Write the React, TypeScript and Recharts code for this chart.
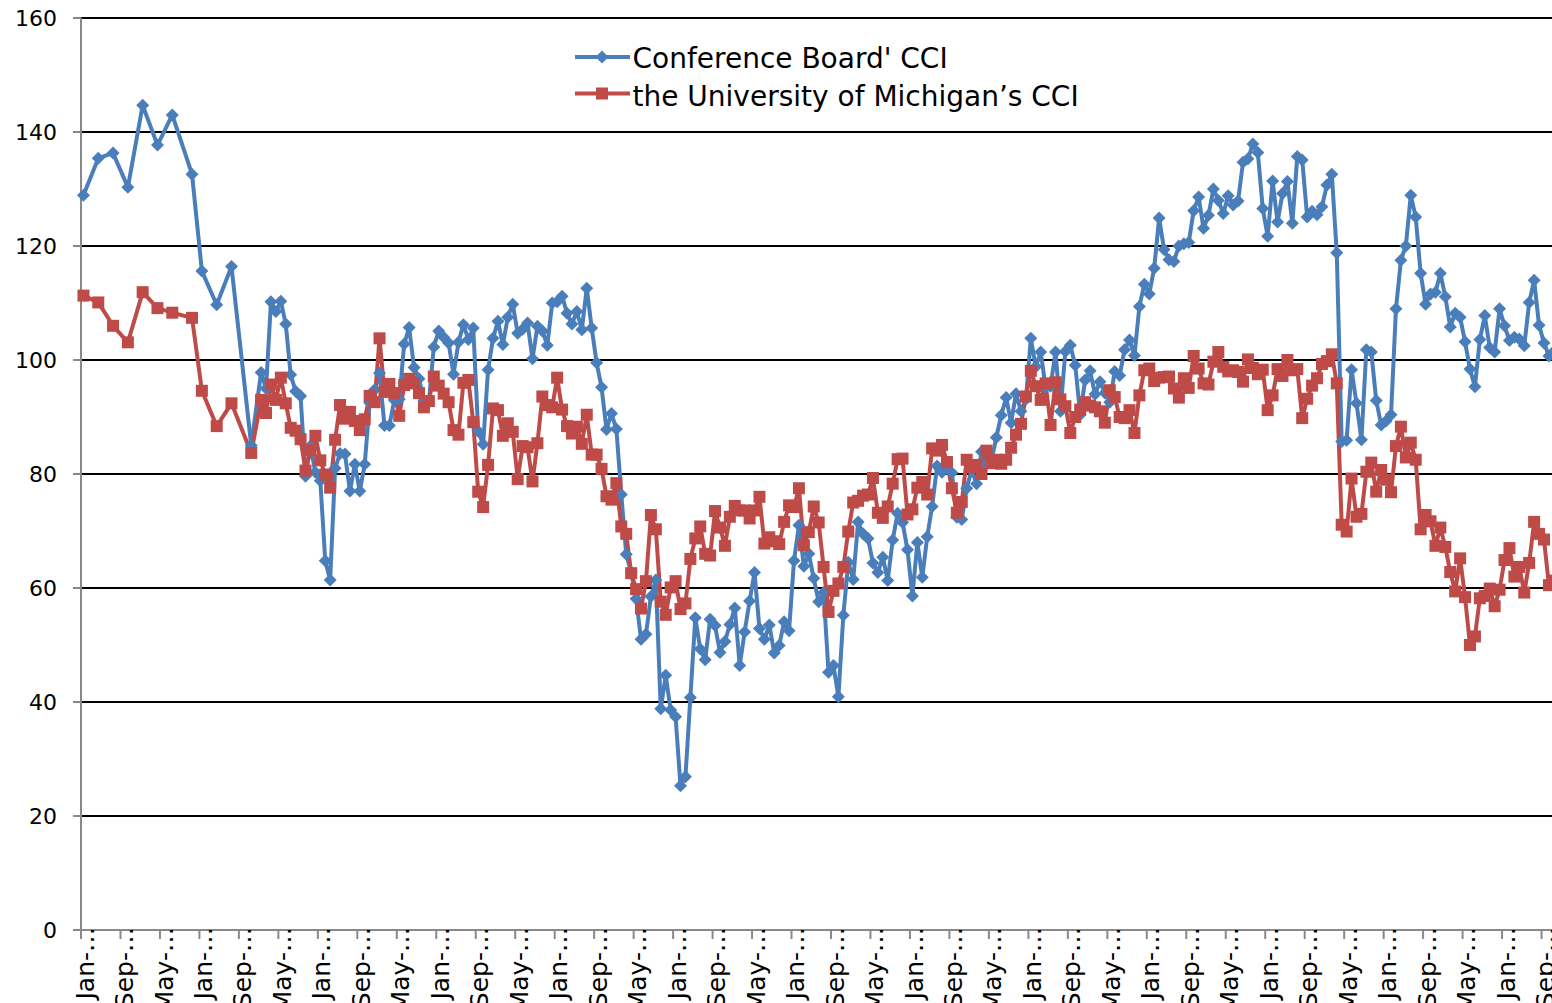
import React from "react";
import { LineChart, Line, XAxis, YAxis, CartesianGrid, Legend } from "recharts";

const monthNames = ["Jan", "Feb", "Mar", "Apr", "May", "Jun", "Jul", "Aug", "Sep", "Oct", "Nov", "Dec"];

// Sparse early observations (1999-2001)
const earlyDates = ["1999-01", "1999-04", "1999-07", "1999-10", "2000-01", "2000-04", "2000-07", "2000-11", "2001-01", "2001-04", "2001-07", "2001-11"];
const cbEarly = [128.9, 135.4, 136.3, 130.3, 144.7, 137.7, 143.0, 132.6, 115.6, 109.7, 116.4, 85.0];
const umEarly = [111.3, 110.1, 106.0, 103.1, 111.9, 109.1, 108.3, 107.4, 94.6, 88.4, 92.4, 83.7];

// Monthly observations from 2002-01
const monthlyStart = "2002-01";
const cbMonthly = [
  97.8, 95.0, 110.2, 108.5, 110.3, 106.3, 97.4, 94.5, 93.7, 79.6, 84.9, 80.3, // 2002
  78.8, 64.8, 61.4, 81.0, 83.6, 83.5, 77.0, 81.7, 77.0, 81.7, 92.5, 94.8, // 2003
  97.7, 88.5, 88.5, 93.0, 93.1, 102.8, 105.7, 98.7, 96.7, 92.9, 92.6, 102.3, // 2004
  105.1, 104.0, 103.0, 97.5, 103.1, 106.2, 103.6, 105.6, 87.5, 85.2, 98.3, 103.8, // 2005
  106.8, 102.7, 107.5, 109.8, 104.7, 105.4, 106.5, 100.2, 105.9, 105.1, 102.6, 110.0, // 2006
  110.2, 111.2, 108.2, 106.3, 108.5, 105.3, 112.6, 105.6, 99.5, 95.2, 87.8, 90.6, // 2007
  87.9, 76.4, 65.9, 62.8, 58.1, 51.0, 51.9, 58.5, 61.4, 38.8, 44.7, 38.6, // 2008
  37.4, 25.3, 26.9, 40.8, 54.8, 49.3, 47.4, 54.5, 53.4, 48.7, 50.6, 53.6, // 2009
  56.5, 46.4, 52.3, 57.7, 62.7, 52.9, 51.0, 53.5, 48.6, 49.9, 54.1, 52.5, // 2010
  64.8, 71.0, 63.8, 66.0, 61.7, 57.6, 59.2, 45.2, 46.4, 40.9, 55.2, 64.5, // 2011
  61.5, 71.6, 69.5, 68.7, 64.4, 62.7, 65.4, 61.3, 68.4, 73.1, 71.5, 66.7, // 2012
  58.6, 68.0, 61.9, 69.0, 74.3, 81.4, 80.3, 81.8, 80.2, 72.4, 72.0, 77.5, // 2013
  80.7, 78.3, 83.9, 81.7, 82.2, 86.4, 90.3, 93.4, 89.0, 94.1, 91.0, 93.1, // 2014
  103.8, 98.8, 101.4, 95.2, 95.4, 101.4, 91.0, 101.5, 102.6, 99.1, 90.4, 96.5, // 2015
  98.1, 94.0, 96.2, 94.2, 92.6, 98.0, 97.3, 101.8, 103.5, 100.8, 109.4, 113.3, // 2016
  111.6, 116.1, 124.9, 119.4, 117.6, 117.3, 120.0, 120.4, 120.6, 126.2, 128.6, 123.1, // 2017
  125.4, 130.0, 128.0, 125.7, 128.8, 127.2, 127.9, 134.7, 135.3, 137.9, 136.4, 126.6, // 2018
  121.7, 131.4, 124.2, 129.2, 131.3, 124.0, 135.7, 135.1, 125.1, 126.1, 125.5, 126.9, // 2019
  130.7, 132.6, 118.8, 85.7, 85.9, 98.3, 92.4, 86.0, 101.8, 101.4, 92.9, 88.6, // 2020
  89.3, 90.4, 109.0, 117.5, 120.0, 128.9, 125.1, 115.2, 109.8, 111.6, 111.9, 115.2, // 2021
  111.1, 105.8, 108.2, 107.5, 103.2, 98.4, 95.3, 103.6, 107.8, 102.2, 101.4, 109.0, // 2022
  106.0, 103.4, 104.0, 103.7, 102.5, 110.1, 114.0, 106.1, 103.0, 100.7, 101.5, 111.0, // 2023
];
const umMonthly = [
  93.0, 90.7, 95.7, 93.0, 96.9, 92.4, 88.1, 87.6, 86.1, 80.6, 84.2, 86.7, // 2002
  82.4, 79.9, 77.6, 86.0, 92.1, 89.7, 90.9, 89.3, 87.7, 89.6, 93.7, 92.6, // 2003
  103.8, 94.4, 95.8, 94.2, 90.2, 95.6, 96.7, 95.9, 94.2, 91.7, 92.8, 97.1, // 2004
  95.5, 94.1, 92.6, 87.7, 86.9, 96.0, 96.5, 89.1, 76.9, 74.2, 81.6, 91.5, // 2005
  91.2, 86.7, 88.9, 87.4, 79.1, 84.9, 84.7, 78.7, 85.4, 93.6, 92.1, 91.7, // 2006
  96.9, 91.3, 88.4, 87.1, 88.3, 85.3, 90.4, 83.4, 83.4, 80.9, 76.1, 75.5, // 2007
  78.4, 70.8, 69.5, 62.6, 59.8, 56.4, 61.2, 72.8, 70.3, 57.6, 55.3, 60.1, // 2008
  61.2, 56.3, 57.3, 65.1, 68.7, 70.8, 66.0, 65.7, 73.5, 70.6, 67.4, 72.5, // 2009
  74.4, 73.6, 73.6, 72.2, 73.6, 76.0, 67.8, 68.9, 68.2, 67.7, 71.6, 74.5, // 2010
  74.2, 77.5, 67.5, 69.8, 74.3, 71.5, 63.7, 55.8, 59.5, 60.8, 63.7, 69.9, // 2011
  75.0, 75.3, 76.2, 76.4, 79.3, 73.2, 72.3, 74.3, 78.3, 82.6, 82.7, 72.9, // 2012
  73.8, 77.6, 78.6, 76.4, 84.5, 84.1, 85.1, 82.1, 77.5, 73.2, 75.1, 82.5, // 2013
  81.2, 81.6, 80.0, 84.1, 81.9, 82.5, 81.8, 82.5, 84.6, 86.9, 88.8, 93.6, // 2014
  98.1, 95.4, 93.0, 95.9, 88.6, 96.1, 93.1, 91.9, 87.2, 90.0, 91.3, 92.6, // 2015
  92.0, 91.7, 91.0, 89.0, 94.7, 93.5, 90.0, 89.8, 91.2, 87.2, 93.8, 98.2, // 2016
  98.5, 96.3, 96.9, 97.0, 97.1, 95.0, 93.4, 96.8, 95.1, 100.7, 98.5, 95.9, // 2017
  95.7, 99.7, 101.4, 98.8, 98.0, 98.2, 97.9, 96.2, 100.1, 98.6, 97.5, 98.3, // 2018
  91.2, 93.8, 98.4, 97.2, 100.0, 98.2, 98.4, 89.8, 93.2, 95.5, 96.8, 99.3, // 2019
  99.8, 101.0, 95.9, 71.1, 69.9, 79.2, 72.5, 73.0, 80.4, 82.0, 76.9, 80.7, // 2020
  79.0, 76.8, 84.9, 88.3, 82.9, 85.5, 82.5, 70.3, 72.8, 71.7, 67.4, 70.6, // 2021
  67.2, 62.8, 59.4, 65.2, 58.4, 50.0, 51.5, 58.2, 58.6, 59.9, 56.8, 59.7, // 2022
  64.9, 67.0, 62.0, 63.7, 59.2, 64.4, 71.6, 69.5, 68.5, 60.5, 61.3, 69.7, // 2023
];

const yTicks = [0, 20, 40, 60, 80, 100, 120, 140, 160];
const xTicks = [0, 8, 16, 24, 32, 40, 48, 56, 64, 72, 80, 88, 96, 104, 112, 120, 128, 136, 144, 152, 160, 168, 176, 184, 192, 200, 208, 216, 224, 232, 240, 248, 256, 264, 272, 280, 288, 296, 304];

const seriesNames = ["Conference Board' CCI", "the University of Michigan\u2019s CCI"];
const BLUE = "#4A7EBB";
const RED = "#BE4B48";
const FONT = "'DejaVu Sans', Verdana, sans-serif";

const baseYear = 1999;
function toIndex(d: string): number {
  const [y, m] = d.split("-").map(Number);
  return (y - baseYear) * 12 + (m - 1);
}
const startIdx = toIndex(monthlyStart);
const monthlyIdx = cbMonthly.map((_, i) => startIdx + i);
const allIdx = [...earlyDates.map(toIndex), ...monthlyIdx];
const cbAll = [...cbEarly, ...cbMonthly];
const umAll = [...umEarly, ...umMonthly];

const data = allIdx.map((idx, i) => ({ t: idx + 0.5, cb: cbAll[i], um: umAll[i] }));

function diamondPath(cx: number, cy: number, r: number) {
  return `M${cx},${cy - r}L${cx + r},${cy}L${cx},${cy + r}L${cx - r},${cy}Z`;
}

const DiamondDot = (props: any) => {
  const { cx, cy, index } = props;
  if (cx == null || cy == null) return <g key={`d${index}`} />;
  return <path key={`d${index}`} d={diamondPath(cx, cy, 6.5)} fill={BLUE} />;
};
const SquareDot = (props: any) => {
  const { cx, cy, index } = props;
  if (cx == null || cy == null) return <g key={`s${index}`} />;
  return <rect key={`s${index}`} x={cx - 6} y={cy - 6} width={12} height={12} fill={RED} />;
};

const XTick = (props: any) => {
  const { x, payload } = props;
  const v = Number(payload.value);
  const label = `${monthNames[v % 12]}-\u2026`;
  return (
    <text
      transform={`translate(${Number(x) + 12.6}, 927) rotate(-90)`}
      x={0}
      y={0}
      textAnchor="end"
      fontSize={25}
      fontFamily={FONT}
      fill="#000"
    >
      {label}
    </text>
  );
};

const LegendContent = () => (
  <svg width={540} height={90} style={{ display: "block", overflow: "visible" }}>
    <line x1={5} y1={27} x2={60} y2={27} stroke={BLUE} strokeWidth={4} />
    <path d={diamondPath(32, 27, 6.5)} fill={BLUE} />
    <text x={62.5} y={38} fontSize={28} fontFamily={FONT} fill="#000">
      {seriesNames[0]}
    </text>
    <line x1={5} y1={63.5} x2={60} y2={63.5} stroke={RED} strokeWidth={4} />
    <rect x={26} y={57.5} width={12} height={12} fill={RED} />
    <text x={62.5} y={75.5} fontSize={28} fontFamily={FONT} fill="#000">
      {seriesNames[1]}
    </text>
  </svg>
);

export default function App() {
  return (
    <div style={{ position: "absolute", left: 0, top: 0, width: 1552, height: 1003, overflow: "hidden", background: "#fff" }}>
      <LineChart width={1581} height={1003} data={data} margin={{ top: 18, right: 0, bottom: 0, left: 0 }}>
        <CartesianGrid horizontal={true} vertical={false} stroke="#000" strokeWidth={2} />
        <XAxis
          dataKey="t"
          type="number"
          domain={[0, 304]}
          ticks={xTicks}
          interval={0}
          height={73}
          tick={<XTick />}
          tickSize={9}
          tickLine={{ stroke: "#898989", strokeWidth: 2 }}
          axisLine={{ stroke: "#898989", strokeWidth: 2 }}
        />
        <YAxis
          type="number"
          domain={[0, 160]}
          ticks={yTicks}
          interval={0}
          width={81}
          tickSize={8}
          tickMargin={16}
          tick={{ fontSize: 22, fill: "#000", fontFamily: FONT }}
          tickLine={{ stroke: "#898989", strokeWidth: 2 }}
          axisLine={{ stroke: "#898989", strokeWidth: 2 }}
        />
        <Legend
          layout="vertical"
          align="center"
          verticalAlign="middle"
          wrapperStyle={{ left: 570, top: 30, width: 540, height: 90 }}
          content={<LegendContent />}
        />
        <Line
          type="linear"
          dataKey="cb"
          name={seriesNames[0]}
          stroke={BLUE}
          strokeWidth={4}
          strokeLinejoin="round"
          dot={DiamondDot}
          activeDot={false}
          isAnimationActive={false}
        />
        <Line
          type="linear"
          dataKey="um"
          name={seriesNames[1]}
          stroke={RED}
          strokeWidth={4}
          strokeLinejoin="round"
          dot={SquareDot}
          activeDot={false}
          isAnimationActive={false}
        />
      </LineChart>
    </div>
  );
}
